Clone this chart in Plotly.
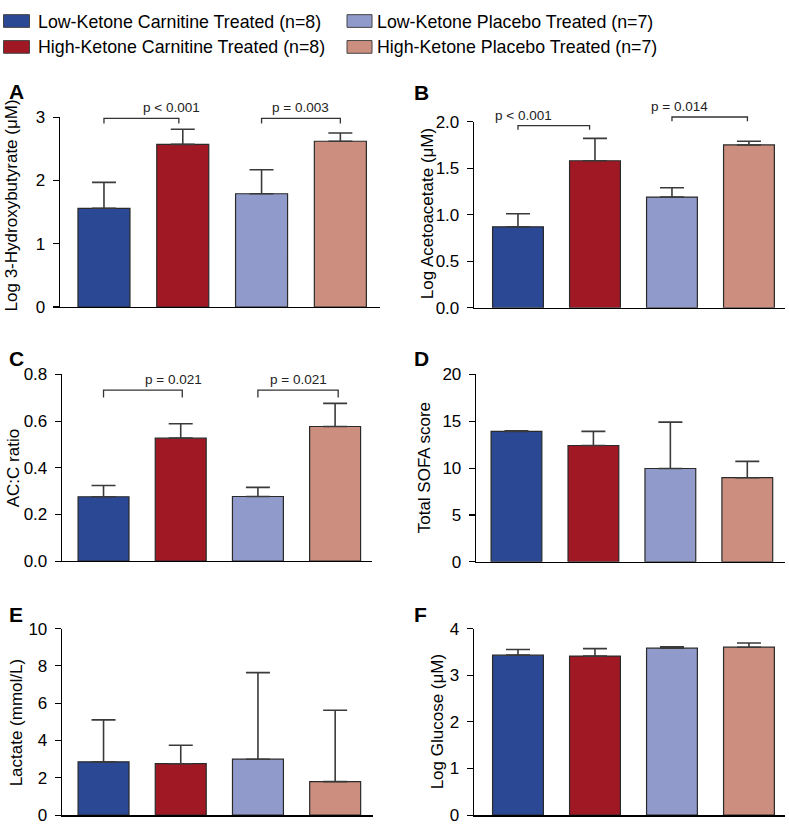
import plotly.graph_objects as go

# ---------------- data ----------------
groups = [
    "Low-Ketone Carnitine Treated (n=8)",
    "High-Ketone Carnitine Treated (n=8)",
    "Low-Ketone Placebo Treated (n=7)",
    "High-Ketone Placebo Treated (n=7)",
]
colors = ["#2A4894", "#A01824", "#919BCB", "#CC8E7E"]
xpos = [0, 1, 2, 3]

hb_mean = [1.56, 2.57, 1.79, 2.62]      # Log 3-Hydroxybutyrate
hb_err = [0.41, 0.24, 0.38, 0.13]
aa_mean = [0.87, 1.58, 1.19, 1.75]      # Log Acetoacetate
aa_err = [0.14, 0.24, 0.10, 0.04]
acc_mean = [0.276, 0.527, 0.277, 0.577]  # AC:C ratio
acc_err = [0.048, 0.062, 0.039, 0.099]
sofa_mean = [13.92, 12.42, 9.96, 8.98]   # Total SOFA score
sofa_err = [0.06, 1.51, 4.95, 1.74]
lac_mean = [2.86, 2.76, 3.00, 1.80]      # Lactate
lac_err = [2.25, 0.99, 4.64, 3.82]
glu_mean = [3.43, 3.41, 3.58, 3.60]      # Log Glucose
glu_err = [0.12, 0.16, 0.03, 0.09]

p_labels_A = ["p < 0.001", "p = 0.003"]
p_labels_B = ["p < 0.001", "p = 0.014"]
p_labels_C = ["p = 0.021", "p = 0.021"]

# ---------------- layout geometry (pixels) ----------------
W, H = 789, 834
FONT = "Liberation Sans, Arial, Helvetica, sans-serif"


def px(x):
    return x / W


def py(y):
    return 1 - y / H


panels = [
    dict(letter="A", mean=hb_mean, err=hb_err, x0=60, x1=380, yt=110.7, yb=305,
         yr=[0, 3], dtick=1, fmt="d", title="Log 3-Hydroxybutyrate (μM)", tx=11, ty=201,
         xr=[-0.558, 3.503], lx=7, ly=84,
         br=[(0, 0.95, 2.98, p_labels_A[0]), (2, 3.0, 2.98, p_labels_A[1])], tick=0.08),
    dict(letter="B", mean=aa_mean, err=aa_err, x0=474, x1=785, yt=115.3, yb=305.7,
         yr=[0, 2], dtick=0.5, fmt=".1f", title="Log Acetoacetate (μM)", tx=427, ty=210,
         xr=[-0.571, 3.468], lx=412, ly=85,
         br=[(0, 0.93, 1.958, p_labels_B[0]), (2, 2.98, 2.05, p_labels_B[1])], tick=0.045),
    dict(letter="C", mean=acc_mean, err=acc_err, x0=62, x1=372, yt=374, yb=565,
         yr=[0, 0.8], dtick=0.2, fmt=".1f", title="AC:C ratio", tx=13, ty=470,
         xr=[-0.538, 3.478], lx=7, ly=358,
         br=[(0, 1.02, 0.733, p_labels_C[0]), (2, 3.04, 0.733, p_labels_C[1])], tick=0.032),
    dict(letter="D", mean=sofa_mean, err=sofa_err, x0=476, x1=785, yt=374, yb=565.7,
         yr=[0, 20], dtick=5, fmt="d", title="Total SOFA score", tx=424, ty=470,
         xr=[-0.526, 3.49], lx=412, ly=358, br=[], tick=0),
    dict(letter="E", mean=lac_mean, err=lac_err, x0=62, x1=373, yt=634, yb=825,
         yr=[0, 10], dtick=2, fmt="d", title="Lactate (mmol/L)", tx=16, ty=730,
         xr=[-0.538, 3.49], lx=7, ly=620, br=[], tick=0),
    dict(letter="F", mean=glu_mean, err=glu_err, x0=474, x1=785, yt=634, yb=825,
         yr=[0, 4], dtick=1, fmt="d", title="Log Glucose (μM)", tx=437, ty=730,
         xr=[-0.571, 3.468], lx=412, ly=620, br=[], tick=0),
]

fig = go.Figure()
shapes = []
annotations = []

for i, p in enumerate(panels):
    n = "" if i == 0 else str(i + 1)
    xa, ya = "x" + n, "y" + n
    fig.add_trace(go.Bar(
        x=xpos, y=p["mean"], xaxis=xa, yaxis=ya, width=0.66,
        marker=dict(color=colors, line=dict(color="#2a2a2a", width=1.2)),
        error_y=dict(type="data", symmetric=False, array=p["err"], arrayminus=[0] * 4,
                     color="#3a3a3a", thickness=1.6, width=12),
        showlegend=False, hoverinfo="y",
    ))
    fig.layout["xaxis" + n] = dict(
        domain=[px(p["x0"]), px(p["x1"])], range=p["xr"], anchor=ya,
        showline=True, linecolor="black", linewidth=1.3, ticks="",
        showticklabels=False, showgrid=False, zeroline=False, fixedrange=True,
    )
    fig.layout["yaxis" + n] = dict(
        domain=[py(p["yb"]), py(p["yt"])], range=p["yr"], anchor=xa,
        dtick=p["dtick"], tick0=0, tickformat=p["fmt"],
        showline=True, linecolor="black", linewidth=1.3,
        ticks="outside", ticklen=6, tickwidth=1.2, tickcolor="black",
        tickfont=dict(size=17, color="black", family=FONT), ticklabelstandoff=4,
        showgrid=False, zeroline=False, fixedrange=True,
    )

    def dx(v, p=p):
        f = (v - p["xr"][0]) / (p["xr"][1] - p["xr"][0])
        return px(p["x0"] + f * (p["x1"] - p["x0"]))

    def dy(v, p=p):
        f = (v - p["yr"][0]) / (p["yr"][1] - p["yr"][0])
        return py(p["yb"] - f * (p["yb"] - p["yt"]))

    for (a, b, lvl, lab) in p["br"]:
        path = "M{},{} L{},{} L{},{} L{},{}".format(
            dx(a), dy(lvl - p["tick"]), dx(a), dy(lvl), dx(b), dy(lvl), dx(b), dy(lvl - p["tick"]))
        shapes.append(dict(type="path", xref="paper", yref="paper", path=path,
                           line=dict(color="#333333", width=1.3)))
        annotations.append(dict(x=(dx(a) + dx(b)) / 2, y=dy(lvl), xref="paper", yref="paper",
                                text=lab, showarrow=False, yanchor="bottom", yshift=1,
                                font=dict(size=13.5, color="#222", family=FONT)))

    annotations.append(dict(x=px(p["tx"]), y=py(p["ty"]), xref="paper", yref="paper",
                            text=p["title"], textangle=-90, showarrow=False,
                            xanchor="center", yanchor="middle",
                            font=dict(size=17, color="black", family=FONT)))
    annotations.append(dict(x=px(p["lx"]), y=py(p["ly"]), xref="paper", yref="paper",
                            text="<b>" + p["letter"] + "</b>", showarrow=False,
                            xanchor="left", yanchor="middle",
                            font=dict(size=21, color="black", family=FONT)))

# ---------------- manual legend ----------------
# (swatch left, swatch right, text left, row centre) in pixels
leg_pos = [(3.5, 29.5, 36.5, 12.3), (3.5, 29.5, 36.5, 38.8),
           (347, 372, 376, 12.3), (347, 372, 376, 38.8)]
for g, c, (sx0, sx1, tx0, cy) in zip(groups, colors, leg_pos):
    shapes.append(dict(type="rect", xref="paper", yref="paper",
                       x0=px(sx0), x1=px(sx1), y0=py(cy - 6.5), y1=py(cy + 6.5),
                       fillcolor=c, line=dict(color="#444", width=1)))
    annotations.append(dict(x=px(tx0), y=py(cy + 0.5), xref="paper", yref="paper",
                            text=g, showarrow=False, xanchor="left", yanchor="middle",
                            xshift=-1, font=dict(size=17.8, color="black", family=FONT)))

fig.update_layout(
    width=W, height=H, margin=dict(l=0, r=0, t=0, b=0),
    paper_bgcolor="white", plot_bgcolor="white",
    shapes=shapes, annotations=annotations, bargap=0,
    font=dict(family=FONT, color="black"),
)

fig.write_html(
    "out.html",
    config={"displayModeBar": False, "staticPlot": True},
    post_script="document.documentElement.style.margin='0';document.body.style.margin='0';"
                "document.body.style.padding='0';document.documentElement.style.overflow='hidden';"
                "document.body.style.overflow='hidden';",
)
